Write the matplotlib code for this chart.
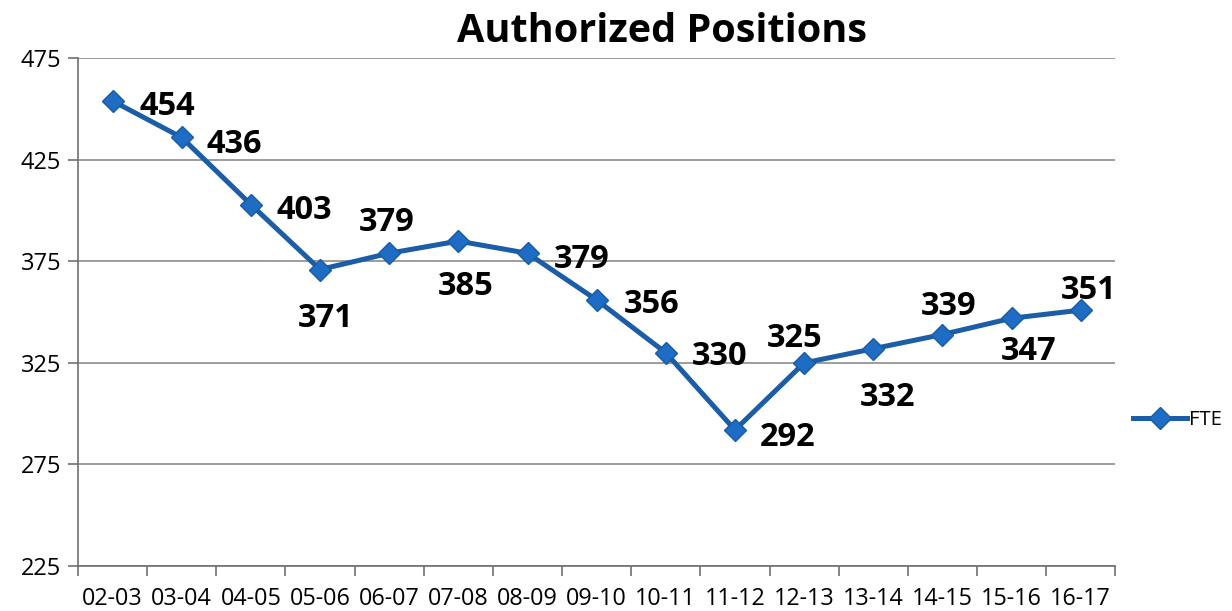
import matplotlib.pyplot as plt
from matplotlib.ticker import FixedLocator

plt.rcParams['font.family'] = ['Open Sans', 'DejaVu Sans']

# Data
years = ['02-03', '03-04', '04-05', '05-06', '06-07', '07-08', '08-09', '09-10',
         '10-11', '11-12', '12-13', '13-14', '14-15', '15-16', '16-17']
fte = [454, 436, 403, 371, 379, 385, 379, 356, 330, 292, 325, 332, 339, 347, 351]

# label offsets in pixels (dx, dy) relative to each point
offsets = [(55, -2), (53, -3), (53, -2), (6, -45), (-3, 35), (7, -41), (54, -2), (55, -1),
           (54, 0), (53, -4), (-10, 28), (14, -45), (6, 32), (17, -29), (8, 24)]

fig = plt.figure(figsize=(12.32, 6.11), dpi=100)
ax = fig.add_axes([0.0633, 0.0736, 0.842, 0.831])

x = list(range(len(years)))
line, = ax.plot(x, fte, color='#1B5DA6', linewidth=3.6, marker='D', markersize=11,
                markerfacecolor='#1E6CC4', markeredgecolor='#1A5CA2', markeredgewidth=1,
                label='FTE', zorder=3)

for i, v in enumerate(fte):
    ax.annotate(str(v), (x[i], v), xytext=offsets[i], textcoords='offset pixels',
                ha='center', va='center_baseline', fontsize=23.5, fontweight='bold', color='black')

ax.set_xlim(-0.5, len(years) - 0.5)
ax.set_ylim(225, 475)
ax.set_yticks([225, 275, 325, 375, 425, 475])
ax.yaxis.grid(True, color='#8C8C8C', linewidth=1.2)
ax.set_axisbelow(True)

ax.set_xticks(x)
ax.set_xticklabels(years)
ax.xaxis.set_minor_locator(FixedLocator([i - 0.5 for i in range(len(years) + 1)]))
ax.tick_params(axis='x', which='major', length=0, labelsize=16.8, pad=15)
ax.tick_params(axis='x', which='minor', length=7, width=1.2, color='#707070')
ax.tick_params(axis='y', length=7, width=1.2, color='#707070', labelsize=17, pad=5)

for s in ['top', 'right']:
    ax.spines[s].set_visible(False)
for s in ['left', 'bottom']:
    ax.spines[s].set_color('#707070')
    ax.spines[s].set_linewidth(1.2)

fig.text(0.537, 0.948, 'Authorized Positions', fontsize=28.5, fontweight='bold',
         ha='center', va='center')

fig.legend(handles=[line], loc='center left', bbox_to_anchor=(1133 / 1232, 0.312),
           frameon=False, fontsize=14.5, handlelength=2.7, handletextpad=0.1,
           borderpad=0, borderaxespad=0)

fig.savefig('out.png', dpi=100)
